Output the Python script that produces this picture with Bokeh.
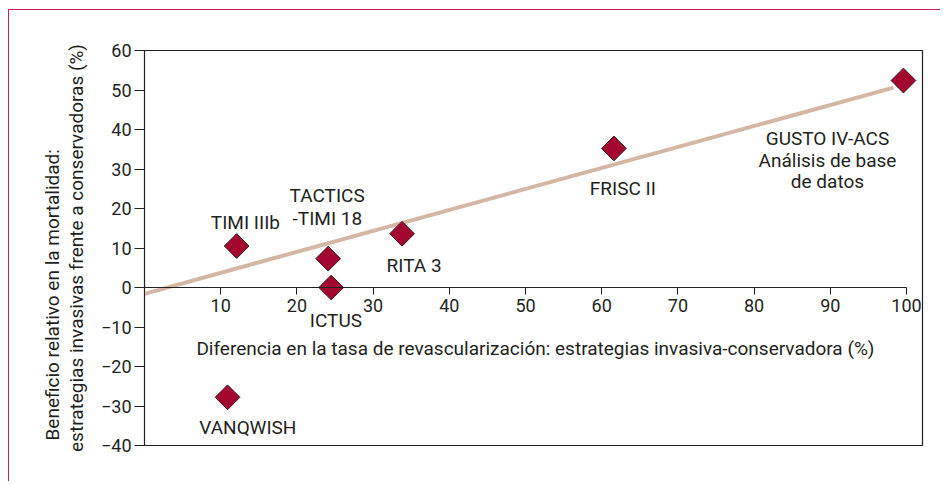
import math
from bokeh.plotting import figure
from bokeh.models import LinearAxis, FixedTicker, Label, ColumnDataSource, Range1d, Title
from bokeh.embed import file_html
from bokeh.resources import INLINE

# ---------------- data ----------------
trial_names = ["TIMI IIIb", "TACTICS\n-TIMI 18", "ICTUS", "RITA 3", "FRISC II",
               "GUSTO IV-ACS\nAnálisis de base\nde datos", "VANQWISH"]
revasc_diff = [12.1, 24.1, 24.5, 33.8, 61.6, 99.6, 10.9]          # x (%)
mortality_benefit = [10.5, 7.3, 0.0, 13.6, 35.2, 52.4, -27.8]    # y (%)

fit_x = [0.0, 98.3]
fit_y = [-1.6, 50.6]

x_ticks = [10, 20, 30, 40, 50, 60, 70, 80, 90, 100]
x_tick_labels = ["10", "20", "30", "40", "50", "60", "70", "80", "90", "100"]
y_ticks = [-40, -30, -20, -10, 0, 10, 20, 30, 40, 50, 60]
y_tick_labels = ["\u221240", "\u221230", "\u221220", "\u221210", "0", "10", "20",
                 "30", "40", "50", "60"]

x_title = "Diferencia en la tasa de revascularización: estrategias invasiva-conservadora (%)"
y_title_lines = ["Beneficio relativo en la mortalidad:",
                 "estrategias invasivas frente a conservadoras (%)"]

# ---------------- styling ----------------
FONT = "Roboto"
FS_TICK = "18px"
FS = "19px"
TXT = "#231F20"

# label offsets (screen px) per trial line: (dx, dy up)
label_offsets = [
    [(8.7, 24)],
    [(-1, 63.3), (-0.8, 40.6)],
    [(4.7, -32.7)],
    [(12, -31.7)],
    [(9, -40)],
    [(-76, -58.3), (-76, -80), (-76, -101)],
    [(20.3, -30)],
]

p = figure(width=932, height=472, output_backend="svg", toolbar_location=None,
           x_range=Range1d(0, 102.1), y_range=Range1d(-40, 60),
           x_axis_location=None,
           min_border_left=135, min_border_top=40, min_border_right=19,
           min_border_bottom=37)
p.styles = {"margin-left": "8px", "margin-top": "9px",
            "border-top": "1px solid #C8234F", "border-left": "1px solid #C8234F"}
p.grid.visible = False
p.background_fill_color = "white"
p.border_fill_color = "white"
p.outline_line_color = TXT
p.outline_line_width = 1.2

# y axis with second title line
ya = p.yaxis[0]
ya.ticker = FixedTicker(ticks=y_ticks)
ya.major_label_overrides = dict(zip(y_ticks, y_tick_labels))
ya.major_tick_out = 10
ya.major_tick_in = 0
ya.minor_tick_line_color = None
ya.axis_line_color = TXT
ya.major_tick_line_color = TXT
ya.major_label_text_font = FONT
ya.major_label_text_font_size = FS_TICK
ya.major_label_text_color = TXT
ya.major_label_standoff = 3
ya.axis_label = y_title_lines[1]
ya.axis_label_text_font = FONT
ya.axis_label_text_font_size = FS
ya.axis_label_text_font_style = "normal"
ya.axis_label_text_color = TXT
ya.axis_label_standoff = 10

# first title line: a side title starting near the bottom of the frame
t1 = Title(text=y_title_lines[0], align="left", offset=5, standoff=-5,
           text_font=FONT, text_font_size=FS, text_font_style="normal",
           text_color=TXT)
p.add_layout(t1, "left")

# x axis drawn at y = 0
xa = LinearAxis(fixed_location=0, bounds=(0, 100), ticker=FixedTicker(ticks=x_ticks))
xa.major_label_overrides = dict(zip(x_ticks, x_tick_labels))
xa.major_tick_out = 7
xa.major_tick_in = 0
xa.minor_tick_line_color = None
xa.axis_line_color = TXT
xa.major_tick_line_color = TXT
xa.major_label_text_font = FONT
xa.major_label_text_font_size = FS_TICK
xa.major_label_text_color = TXT
xa.major_label_standoff = 4
p.add_layout(xa, "below")

# regression line
p.line(fit_x, fit_y, line_color="#D4B6A2", line_width=4)

# trial markers
src = ColumnDataSource(dict(x=revasc_diff, y=mortality_benefit))
p.scatter("x", "y", source=src, marker="square", angle=math.pi / 4, size=17.5,
          fill_color="#A3062F", line_color="#3A1A1F", line_width=1)

# trial labels
for name, xv, yv, offs in zip(trial_names, revasc_diff, mortality_benefit, label_offsets):
    for line, (dx, dy) in zip(name.split("\n"), offs):
        p.add_layout(Label(x=xv, y=yv, x_offset=dx, y_offset=dy, text=line,
                           text_align="center", text_baseline="middle",
                           text_font=FONT, text_font_size=FS, text_color=TXT))

# x title (inside plot, below axis labels)
p.add_layout(Label(x=51.3, y=-15.4, text=x_title, text_align="center",
                   text_baseline="middle", text_font=FONT, text_font_size=FS,
                   text_color=TXT))

open("out.html", "w").write(file_html(p, INLINE))
